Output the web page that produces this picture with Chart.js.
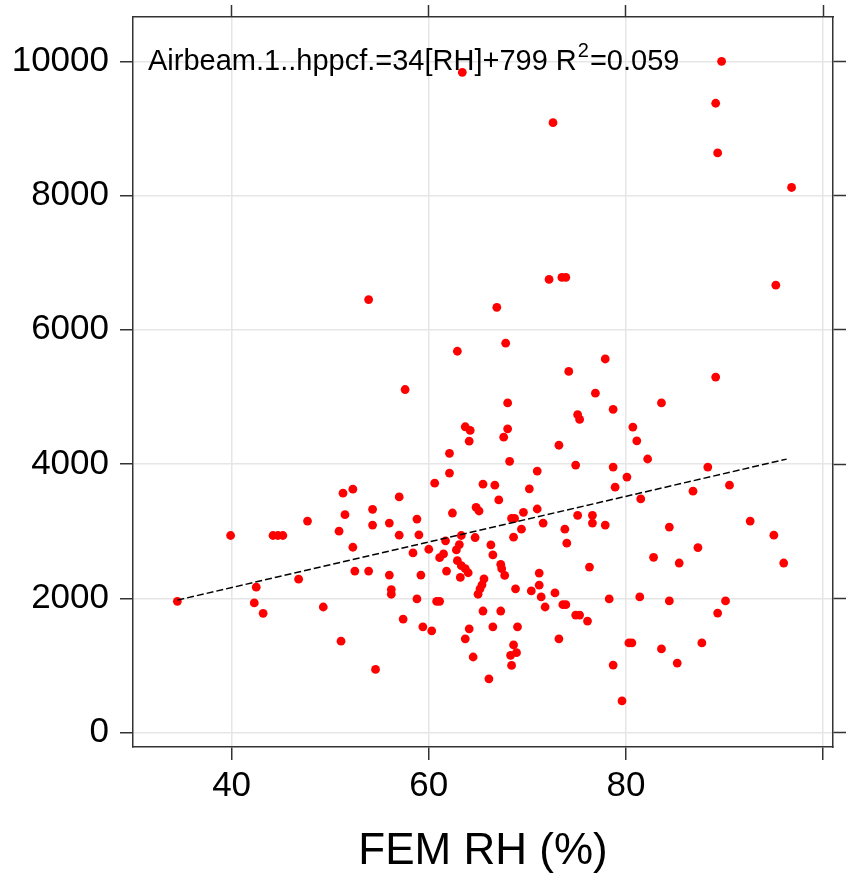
<!DOCTYPE html>
<html>
<head>
<meta charset="utf-8">
<script src="https://cdn.jsdelivr.net/npm/chart.js@4.4.1/dist/chart.umd.min.js"></script>
<style>
  html, body { margin: 0; padding: 0; background: #fff; }
  #wrap { width: 847px; height: 879px; position: relative; }
</style>
</head>
<body>
<div id="wrap"><canvas id="chart"></canvas></div>
<script>
// FEM relative humidity (%) for each sample
const rhValues = [
  63.4, 89.7, 89.1, 89.3, 72.6, 96.8,
  53.9, 62.9, 57.6, 63.7, 64.2, 64.1, 62.1, 62.1, 60.6, 51.3, 52.3, 57.0,
  72.2, 73.5, 73.9, 66.9, 95.2, 67.8, 77.9, 74.2, 89.1, 76.9, 68.0, 78.7, 83.6, 75.1, 75.3, 80.7, 81.1, 68.0, 67.6, 73.2,
  82.2, 68.2, 74.9, 78.7, 88.3, 71.0, 80.1, 65.5, 66.7, 70.2, 78.9, 86.8, 90.5, 67.1, 81.5,
  47.7, 39.9, 44.2, 44.7, 45.2, 51.5, 54.3, 54.3, 56.0, 57.0, 50.9, 52.3, 58.8, 59.0, 62.4, 64.8, 65.1, 64.7, 61.7, 60.0,
  58.4, 61.5, 61.1, 63.3, 63.1, 62.8, 62.9, 63.3, 63.7, 64.0, 63.2, 52.5, 53.9, 56.0, 59.2, 61.8, 46.8, 56.2, 56.2, 42.5,
  42.3, 43.2, 34.5, 49.3, 58.8, 60.8, 61.1, 57.4, 59.4, 60.3, 64.1, 63.7, 64.5, 51.1, 54.6,
  68.4, 68.7, 69.6, 71.0, 71.6, 69.4, 68.6, 75.1, 76.6, 76.6, 77.9, 73.8, 74.0, 84.4, 87.3, 82.8, 85.4, 92.6, 95.0, 96.0,
  76.3, 66.3, 66.5, 67.3, 67.4, 67.7, 65.6, 65.4, 65.2, 65.0, 71.2, 71.2, 70.4, 68.8, 71.4, 71.8, 72.8, 73.6, 73.9, 74.9,
  75.3, 76.1, 78.3, 81.4, 84.4, 90.1, 89.3, 65.5, 67.3, 66.5, 69.0, 73.2, 68.6, 68.9, 68.3, 68.4, 66.1, 80.3, 80.6, 83.6,
  87.7, 78.7, 85.2, 79.6
];

// Airbeam 1 hppcf for each sample
const pmValues = [
  9836, 10000, 9375, 8635, 9085, 8120,
  6450, 5680, 5110, 4555, 4500, 4340, 4160, 3865, 3715, 3565, 3625, 3510,
  6750, 6780, 6780, 6335, 6665, 5800, 5565, 5380, 5295, 5055, 4910, 4815, 4910, 4735, 4665, 4550, 4345, 4525, 4400, 4280,
  4075, 4040, 3985, 3955, 3955, 3895, 3805, 3700, 3685, 3630, 3655, 3595, 3685, 3465, 3480,
  3150, 2935, 2935, 2935, 2935, 3245, 3325, 3090, 3120, 2940, 3000, 2760, 3180, 2945, 3270, 3355, 3300, 2905, 2855, 2730,
  2675, 2660, 2605, 2935, 2800, 2720, 2560, 2485, 2440, 2380, 2310, 2405, 2405, 2345, 2345, 2405, 2285, 2130, 2060, 2165,
  1930, 1775, 1955, 1870, 1990, 1955, 1955, 1690, 1575, 1515, 1545, 1395, 1125, 1360, 940,
  3190, 3190, 3280, 3330, 3120, 3030, 2910, 3235, 3235, 3120, 3090, 3030, 2820, 3060, 2755, 2610, 2525, 3150, 2940, 2525,
  2465, 2795, 2645, 2505, 2440, 2340, 2290, 2200, 2140, 2060, 2375, 2195, 2110, 2140, 2020, 1870, 2080, 1905, 1905, 1750,
  1750, 1660, 1990, 2020, 1960, 1960, 1780, 1810, 1810, 1575, 1575, 1395, 1305, 1190, 1150, 1000, 800, 1335, 1335, 1245,
  1335, 1005, 1035, 470
];

// fitted line end points (34[RH]+799)
const fitX = [34.5, 96.3];
const fitY = [1972, 4073];

const xTicks = [40, 60, 80, 100];
const xTickLabels = ["40", "60", "80", ""];
const yTicks = [0, 2000, 4000, 6000, 8000, 10000];
const yTickLabels = ["0", "2000", "4000", "6000", "8000", "10000"];

const FONT = "'Liberation Sans', Arial, sans-serif";
const frameColor = "#333333";
const gridColor = "#e6e6e6";

const fixTicks = vals => scale => { scale.ticks = vals.map(v => ({ value: v })); };

// regression text in the top left corner
const fitLabel = {
  id: "fitLabel",
  afterDatasetsDraw(chart) {
    const ctx = chart.ctx;
    ctx.save();
    ctx.fillStyle = "#000";
    ctx.textBaseline = "alphabetic";
    ctx.textAlign = "left";
    let x = 148, y = 70;
    const head = "Airbeam.1..hppcf.=34[RH]+799 R";
    ctx.font = "29px " + FONT;
    ctx.fillText(head, x, y);
    x += ctx.measureText(head).width + 1;
    ctx.font = "20px " + FONT;
    ctx.fillText("2", x, y - 13);
    x += ctx.measureText("2").width + 1;
    ctx.font = "29px " + FONT;
    ctx.fillText("=0.059", x, y);
    ctx.restore();
  }
};

const points = rhValues.map((x, i) => ({ x: x, y: pmValues[i] }));
const fitLine = fitX.map((x, i) => ({ x: x, y: fitY[i] }));

new Chart(document.getElementById("chart"), {
  type: "scatter",
  data: {
    datasets: [
      {
        label: "fit",
        data: fitLine,
        showLine: true,
        borderColor: "#000",
        borderWidth: 1.5,
        borderDash: [7, 3],
        pointRadius: 0,
        xAxisID: "x",
        yAxisID: "y"
      },
      {
        label: "Airbeam.1..hppcf.",
        data: points,
        pointRadius: 4.4,
        pointBackgroundColor: "#ff0000",
        pointBorderWidth: 0,
        xAxisID: "x",
        yAxisID: "y"
      }
    ]
  },
  options: {
    responsive: true,
    maintainAspectRatio: false,
    animation: false,
    layout: { padding: 0 },
    plugins: { legend: { display: false }, tooltip: { enabled: false } },
    scales: {
      x: {
        type: "linear",
        position: "bottom",
        min: 30, max: 101,
        afterBuildTicks: fixTicks(xTicks),
        afterFit: s => { s.height = 132; s.paddingLeft = 0; s.paddingRight = 0; },
        grid: { color: gridColor, lineWidth: 1.5, tickLength: 13, tickColor: frameColor, tickWidth: 1.5 },
        border: { display: true, color: frameColor, width: 1.5 },
        ticks: {
          color: "#000", font: { family: FONT, size: 35 }, padding: 5, maxRotation: 0,
          callback: (v, i) => xTickLabels[i]
        },
        title: {
          display: true, text: "FEM RH (%)", color: "#000",
          font: { family: FONT, size: 44 }, padding: { top: 0, bottom: 1 }
        }
      },
      y: {
        type: "linear",
        position: "left",
        min: -216, max: 10660,
        afterBuildTicks: fixTicks(yTicks),
        afterFit: s => { s.width = 133; s.paddingTop = 0; s.paddingBottom = 0; },
        grid: { color: gridColor, lineWidth: 1.5, tickLength: 13, tickColor: frameColor, tickWidth: 1.5 },
        border: { display: true, color: frameColor, width: 1.5 },
        ticks: {
          color: "#000", font: { family: FONT, size: 35 }, padding: 11,
          callback: (v, i) => yTickLabels[i]
        }
      },
      x2: {
        type: "linear",
        position: "top",
        min: 30, max: 101,
        afterBuildTicks: fixTicks(xTicks),
        afterFit: s => { s.height = 17; s.paddingLeft = 0; s.paddingRight = 0; },
        grid: { drawOnChartArea: false, tickLength: 12, tickColor: frameColor, tickWidth: 1.5 },
        border: { display: true, color: frameColor, width: 1.5 },
        ticks: { display: false }
      },
      y2: {
        type: "linear",
        position: "right",
        min: -216, max: 10660,
        afterBuildTicks: fixTicks(yTicks),
        afterFit: s => { s.width = 14; s.paddingTop = 0; s.paddingBottom = 0; },
        grid: { drawOnChartArea: false, tickLength: 13, tickColor: frameColor, tickWidth: 1.5 },
        border: { display: true, color: frameColor, width: 1.5 },
        ticks: { display: false }
      }
    }
  },
  plugins: [fitLabel]
});
</script>
</body>
</html>
